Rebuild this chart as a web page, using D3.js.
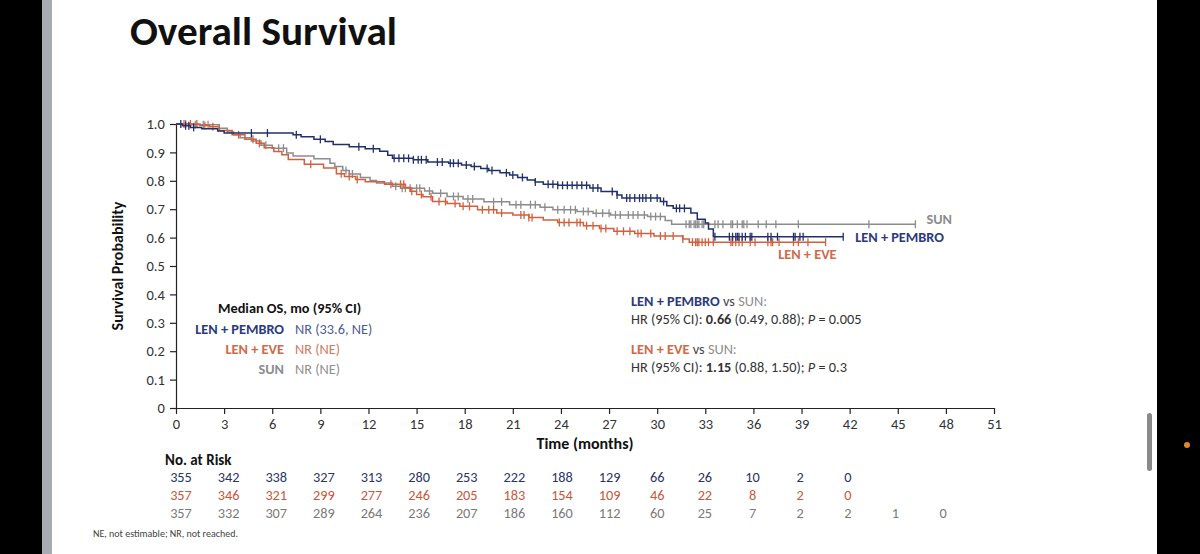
<!DOCTYPE html>
<html><head><meta charset="utf-8">
<script src="https://cdn.jsdelivr.net/npm/d3@7"></script>
<style>
html,body{margin:0;padding:0;background:#000;}
svg{display:block;}
text{font-family:Carlito,Lato,"Open Sans",sans-serif;}
</style></head>
<body>
<svg id="chart" width="1200" height="554"></svg>
<script>
// ---------- DATA ----------
const seriesNames = ["LEN + PEMBRO", "LEN + EVE", "SUN"];
const pembroTime = [0,0.4,0.9,1.6,2.6,3.0,7.3,7.8,8.6,9.3,9.8,10.8,11.8,12.7,13.2,13.5,14.8,15.7,17.0,17.8,18.4,19.0,19.5,20.2,20.8,21.3,21.9,22.4,22.9,23.8,25.8,26.5,27.5,27.8,30.2,30.6,31.0,32.1,32.5,33.0,33.2,33.5,41.6];
const pembroSurv = [1.0,0.994,0.988,0.983,0.975,0.968,0.962,0.955,0.946,0.938,0.928,0.92,0.913,0.904,0.89,0.879,0.874,0.866,0.862,0.856,0.85,0.843,0.836,0.828,0.82,0.812,0.803,0.796,0.788,0.784,0.775,0.762,0.75,0.739,0.727,0.712,0.703,0.687,0.665,0.651,0.63,0.603,0.603];
const eveTime = [0,1.5,2.1,2.7,3.5,4.3,5.0,5.5,6.1,6.6,7.0,8.0,9.2,10.0,10.5,11.2,11.8,13.0,14.3,14.6,15.0,15.4,16.0,16.9,17.7,18.8,20.0,21.0,22.0,22.9,23.8,25.4,26.4,27.3,28.6,29.8,31.6,32.0,40.5];
const eveSurv = [1.0,0.995,0.99,0.977,0.962,0.946,0.932,0.916,0.903,0.892,0.875,0.858,0.845,0.825,0.815,0.805,0.797,0.788,0.776,0.763,0.752,0.744,0.727,0.72,0.71,0.698,0.687,0.68,0.671,0.662,0.653,0.642,0.632,0.622,0.614,0.606,0.595,0.584,0.584];
const sunTime = [0,1.0,2.7,3.2,3.6,4.0,4.7,5.3,6.0,6.9,7.3,8.6,9.6,9.9,10.4,10.8,11.5,12.1,12.5,13.5,14.0,15.5,16.0,16.9,17.9,19.2,20.8,22.7,23.5,25.0,26.0,27.1,29.4,30.5,30.9,46.1];
const sunSurv = [1.0,0.997,0.985,0.972,0.962,0.952,0.94,0.925,0.915,0.898,0.887,0.878,0.862,0.85,0.836,0.824,0.812,0.801,0.792,0.781,0.774,0.764,0.756,0.745,0.736,0.726,0.716,0.707,0.698,0.692,0.686,0.68,0.674,0.66,0.647,0.647];

const pembroCensor = [0.3,0.6,0.8,1.1,4.7,5.7,7.5,9.0,11.4,12.3,13.6,13.9,14.2,14.5,14.8,15.1,15.3,15.6,16.3,16.6,17.1,17.3,17.6,18.1,18.6,19.4,19.7,20.6,21.0,21.6,22.4,23.2,23.5,23.8,24.1,24.4,24.7,25.0,25.3,25.6,26.0,26.3,27.2,27.5,28.1,28.3,28.6,28.9,29.1,29.3,29.6,30.0,30.4,31.2,31.4,31.7,33.6,34.5,34.7,34.9,35.0,35.1,35.3,35.5,35.8,35.9,36.9,37.1,37.5,38.5,38.6,38.9,39.1,41.6];
const eveCensor = [0.5,0.9,1.3,1.8,2.3,3.9,4.8,5.2,8.4,10.3,10.8,11.3,13.4,14.0,14.2,14.7,15.3,15.9,16.4,16.8,17.4,17.9,18.3,19.1,19.5,19.8,20.3,21.5,21.7,22.0,22.2,23.9,24.2,24.5,25.0,25.2,25.6,26.0,26.5,26.8,27.5,27.9,28.3,28.8,29.0,29.6,30.2,30.5,31.0,31.6,32.2,32.4,32.5,32.6,32.8,33.0,33.2,33.5,34.6,34.7,34.9,35.1,35.3,35.8,36.1,36.9,37.1,37.2,37.6,38.5,38.8,39.4,40.5];
const sunCensor = [0.6,1.2,1.7,2.0,5.6,6.4,6.7,10.6,11.0,13.7,14.1,14.3,14.6,15.0,15.2,15.8,16.5,17.3,17.6,18.2,18.5,19.8,20.3,21.2,21.5,22.1,22.4,23.0,23.8,24.2,24.6,24.9,25.4,25.7,26.2,26.6,27.0,27.4,27.7,28.2,28.5,28.8,29.2,29.6,29.9,30.2,31.8,32.0,32.1,32.3,32.4,32.5,32.6,32.8,32.9,33.6,33.8,34.1,34.6,34.7,35.0,35.3,35.4,35.6,36.3,36.8,37.4,38.8,43.2,46.1];

const xTicks = [0,3,6,9,12,15,18,21,24,27,30,33,36,39,42,45,48,51];
const yTicks = [0,0.1,0.2,0.3,0.4,0.5,0.6,0.7,0.8,0.9,1.0];
const riskTimes = [0,3,6,9,12,15,18,21,24,27,30,33,36,39,42,45,48];
const riskPembro = [355,342,338,327,313,280,253,222,188,129,66,26,10,2,0];
const riskEve = [357,346,321,299,277,246,205,183,154,109,46,22,8,2,0];
const riskSun = [357,332,307,289,264,236,207,186,160,112,60,25,7,2,2,1,0];

const colors = {pembro:"#22306a", eve:"#d2603e", sun:"#8c8c8c"};

// ---------- DRAW ----------
const svg = d3.select("#chart");
svg.append("rect").attr("x",0).attr("y",0).attr("width",1200).attr("height",554).attr("fill","#000");
svg.append("rect").attr("x",42).attr("y",0).attr("width",10).attr("height",554).attr("fill","#a9abb3");
svg.append("rect").attr("x",52).attr("y",0).attr("width",1105).attr("height",554).attr("fill","#fff");
svg.append("rect").attr("x",1147).attr("y",413).attr("width",5).attr("height",58).attr("rx",2.5).attr("fill","#8a8a8a");
svg.append("circle").attr("cx",1187).attr("cy",445).attr("r",3).attr("fill","#d98a2b");

svg.append("text").attr("x",130).attr("y",45).attr("font-size",40).attr("font-weight",600).attr("fill","#111")
  .attr("textLength",267).attr("lengthAdjust","spacingAndGlyphs")
  .text("Overall Survival");

const x = d3.scaleLinear().domain([0,51]).range([176,994]);
const y = d3.scaleLinear().domain([0,1]).range([408,124]);

const xAxis = d3.axisBottom(x).tickValues(xTicks).tickSize(6).tickSizeOuter(0).tickFormat(d3.format("d"));
const gx = svg.append("g").attr("transform",`translate(0,${y(0)})`).call(xAxis);
gx.selectAll("path,line").attr("stroke","#222").attr("stroke-width",1.2);
gx.selectAll("text").attr("font-size",14.5).attr("fill","#333").attr("dy","0.85em").style("font-family","Carlito,Lato,sans-serif");

const yAxis = d3.axisLeft(y).tickValues(yTicks).tickSize(6).tickSizeOuter(0).tickFormat(d => d===0 ? "0" : d3.format(".1f")(d));
const gy = svg.append("g").attr("transform",`translate(${x(0)},0)`).call(yAxis);
gy.selectAll("path,line").attr("stroke","#222").attr("stroke-width",1.2);
gy.selectAll("text").attr("font-size",14.5).attr("fill","#333").attr("dx","-0.15em").style("font-family","Carlito,Lato,sans-serif");

svg.append("text").attr("transform",`translate(123,${(y(0)+y(1))/2}) rotate(-90)`).attr("text-anchor","middle")
  .attr("font-size",16).attr("font-weight",700).attr("fill","#111").text("Survival Probability");
svg.append("text").attr("x",585).attr("y",449).attr("text-anchor","middle")
  .attr("font-size",16).attr("font-weight",700).attr("fill","#111").text("Time (months)");

// curves
const series = [
  {key:"sun", t:sunTime, s:sunSurv, c:sunCensor},
  {key:"eve", t:eveTime, s:eveSurv, c:eveCensor},
  {key:"pembro", t:pembroTime, s:pembroSurv, c:pembroCensor}
];
const line = d3.line().x(d=>x(d[0])).y(d=>y(d[1])).curve(d3.curveStepAfter);
function survAt(ser, t){
  let v = ser.s[0];
  for(let i=0;i<ser.t.length;i++){ if(ser.t[i] <= t) v = ser.s[i]; }
  return v;
}
series.forEach(ser=>{
  const pts = ser.t.map((t,i)=>[t, ser.s[i]]);
  svg.append("path").datum(pts).attr("d",line).attr("fill","none")
    .attr("stroke",colors[ser.key]).attr("stroke-width",1.5);
  svg.append("g").selectAll("line").data(ser.c).join("line")
    .attr("x1",d=>x(d)).attr("x2",d=>x(d))
    .attr("y1",d=>y(survAt(ser,d))-4).attr("y2",d=>y(survAt(ser,d))+4)
    .attr("stroke",colors[ser.key]).attr("stroke-width",1.3);
});

// curve labels
svg.append("text").attr("x",x(46.1)+11).attr("y",y(0.647)).attr("font-size",14.3).attr("font-weight",600)
  .attr("fill","#8c8c8c").text("SUN");
svg.append("text").attr("x",x(41.6)+12).attr("y",y(0.603)+5).attr("font-size",14.3).attr("font-weight",700)
  .attr("fill","#2b3a7a").text("LEN + PEMBRO");
svg.append("text").attr("x",x(40.5)+11).attr("y",y(0.583)+17).attr("font-size",14.3).attr("font-weight",600)
  .attr("text-anchor","end").attr("fill","#d06a48").text("LEN + EVE");

// median legend
svg.append("text").attr("x",218).attr("y",313).attr("font-size",14.3).attr("font-weight",700).attr("fill","#111")
  .text("Median OS, mo (95% CI)");
const med = [
  {name:"LEN + PEMBRO", val:"NR (33.6, NE)", c1:"#2b3a7a", c2:"#4d5b91", yy:334},
  {name:"LEN + EVE", val:"NR (NE)", c1:"#d06a48", c2:"#d2795e", yy:354},
  {name:"SUN", val:"NR (NE)", c1:"#8c8c8c", c2:"#909090", yy:374}
];
med.forEach(m=>{
  svg.append("text").attr("x",284).attr("y",m.yy).attr("text-anchor","end").attr("font-size",14.3).attr("font-weight",600)
    .attr("fill",m.c1).text(m.name);
  svg.append("text").attr("x",295).attr("y",m.yy).attr("font-size",14.3).attr("fill",m.c2).text(m.val);
});

// HR text
function hrBlock(yy, name, nameColor, hr, ci, p){
  const t1 = svg.append("text").attr("x",631).attr("y",yy).attr("font-size",14.3);
  t1.append("tspan").attr("font-weight",700).attr("fill",nameColor).text(name);
  t1.append("tspan").attr("fill","#444").text(" vs ");
  t1.append("tspan").attr("fill","#8c8c8c").text("SUN:");
  const t2 = svg.append("text").attr("x",631).attr("y",yy+18).attr("font-size",14.3).attr("fill","#333");
  t2.append("tspan").text("HR (95% CI): ");
  t2.append("tspan").attr("font-weight",700).text(hr);
  t2.append("tspan").text(" " + ci + "; ");
  t2.append("tspan").attr("font-style","italic").text("P");
  t2.append("tspan").text(" = " + p);
}
hrBlock(306, "LEN + PEMBRO", "#2b3a7a", "0.66", "(0.49, 0.88)", "0.005");
hrBlock(354, "LEN + EVE", "#d06a48", "1.15", "(0.88, 1.50)", "0.3");

// at-risk table
svg.append("text").attr("x",165).attr("y",465).attr("font-size",15).attr("font-weight",700).attr("fill","#111")
  .text("No. at Risk");
const xr = d3.scaleLinear().domain([0,48]).range([181,943]);
const rows = [
  {vals:riskPembro, c:"#2a3565", yy:482},
  {vals:riskEve, c:"#c8573c", yy:500},
  {vals:riskSun, c:"#7a7a7a", yy:518}
];
rows.forEach(r=>{
  svg.append("g").selectAll("text").data(r.vals).join("text")
    .attr("x",(d,i)=>xr(riskTimes[i])).attr("y",r.yy).attr("text-anchor","middle")
    .attr("font-size",14.3).attr("fill",r.c).text(d=>d);
});

svg.append("text").attr("x",93).attr("y",537).attr("font-size",10).attr("fill","#444")
  .text("NE, not estimable; NR, not reached.");
</script>
</body></html>
